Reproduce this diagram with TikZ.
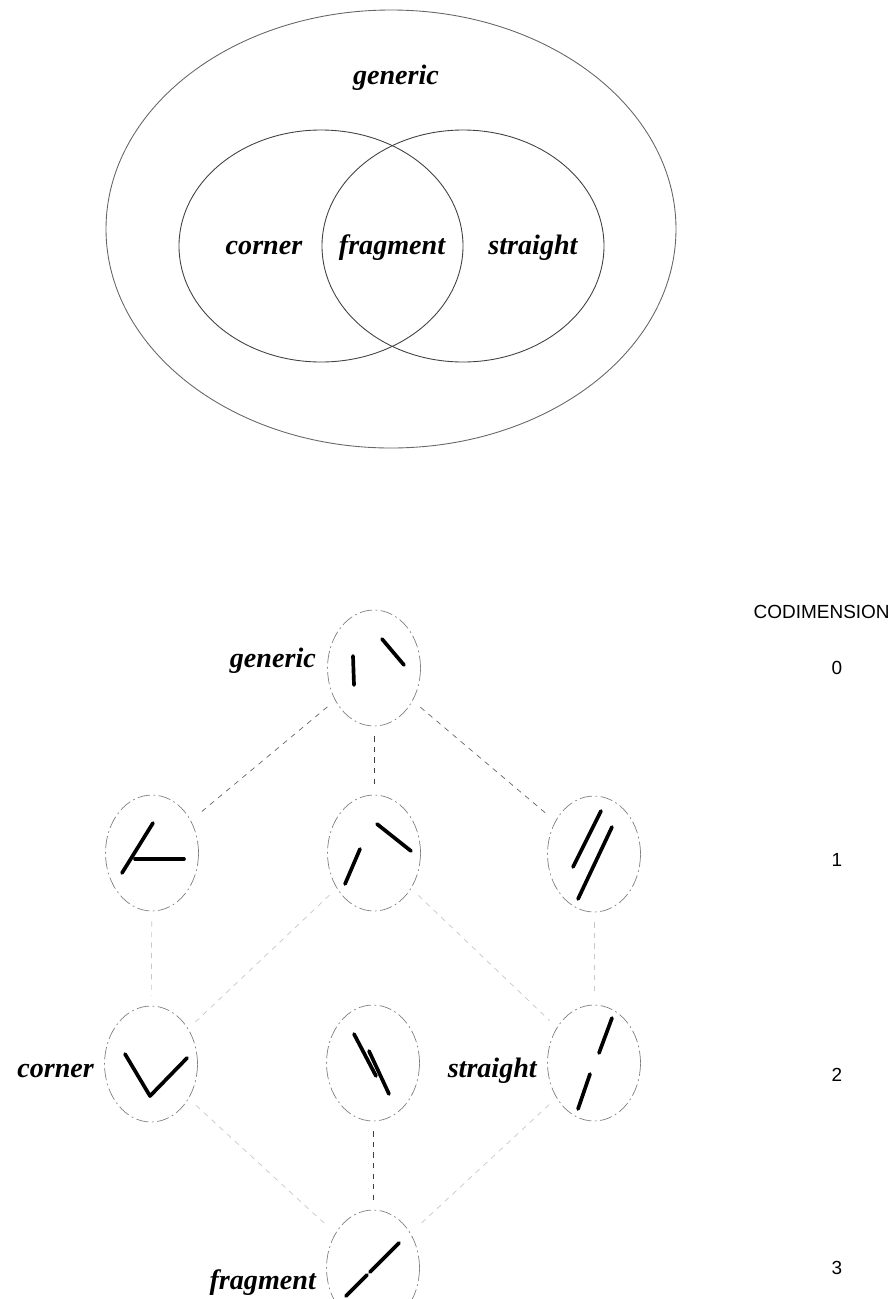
\documentclass[tikz,border=0pt]{standalone}
\usepackage{fontspec}
\setmainfont{Liberation Serif}
\setsansfont{Liberation Sans}
\usetikzlibrary{positioning,shapes.geometric}

\tikzset{
  setline/.style={draw=black!75, line width=0.5pt},
  state/.style={ellipse, draw=black!50, line width=0.4pt, dash pattern=on 7pt off 2pt on 1pt off 2pt,
    minimum width=1.86cm, minimum height=2.32cm, inner sep=0pt},
  seg/.style={line width=2.1pt, line cap=round},
  lbl/.style={font=\fontsize{16}{19}\selectfont\bfseries\itshape, inner sep=0pt},
  codim/.style={font=\sffamily\fontsize{10.8}{13}\selectfont, inner sep=0pt},
  link/.style={draw=black!60, line width=0.4pt, dashed, shorten >=0.2cm, shorten <=0.2cm},
  faint/.style={link, draw=black!22},
}

\begin{document}
\begin{tikzpicture}[x=0.02cm, y=-0.02cm]
  \useasboundingbox (0,0) rectangle (893,1299);

  % Venn diagram
  \draw[setline, draw=black!60] (391,229) ellipse [x radius=285, y radius=219];
  \draw[setline] (321,246) ellipse [x radius=142, y radius=116];
  \draw[setline] (463,246) ellipse [x radius=141, y radius=116];
  \node[lbl] (vgen) at (396,78) {generic};
  \node[lbl] (vcor) at (264,248) {corner};
  \node[lbl] (vfra) at (392,248) {fragment};
  \node[lbl] (vstr) at (533,248) {straight};

  % Lattice nodes
  \node[state] (g)  at (374,668)  {};
  \node[state] (l1) at (152,853)  {};
  \node[state] (m1) at (374,853)  {};
  \node[state] (r1) at (594,854)  {};
  \node[state] (c2) at (151,1064) {};
  \node[state] (m2) at (373,1063) {};
  \node[state] (s2) at (594,1063) {};
  \node[state] (f3) at (373,1268) {};

  % Labels
  \node[lbl, left=0.22cm of g, yshift=0.15cm] (lgen) {generic};
  \node[lbl, left=0.2cm of c2, yshift=-0.15cm] (lcor) {corner};
  \node[lbl, left=0.2cm of s2, yshift=-0.15cm] (lstr) {straight};
  \node[lbl, left=0.2cm of f3, yshift=-0.3cm] (lfra) {fragment};

  % Segments inside the nodes
  \begin{scope}[shift={(g)}]
    \draw[seg] (-21,-12) -- (-20,17);
    \draw[seg] (8,-29) -- (30,-3);
  \end{scope}
  \begin{scope}[shift={(l1)}]
    \draw[seg] (-30,20) -- (1,-30);
    \draw[seg] (-17,6) -- (32,6);
  \end{scope}
  \begin{scope}[shift={(m1)}]
    \draw[seg] (-29,31) -- (-14,-4);
    \draw[seg] (3,-29) -- (37,-2);
  \end{scope}
  \begin{scope}[shift={(r1)}]
    \draw[seg] (-21,13) -- (7,-43);
    \draw[seg] (-16,45) -- (18,-27);
  \end{scope}
  \begin{scope}[shift={(c2)}]
    \draw[seg, line join=round] (-26,-10) -- (-1,32) -- (36,-6);
  \end{scope}
  \begin{scope}[shift={(m2)}]
    \draw[seg] (-19,-29) -- (3,13);
    \draw[seg] (-4,-12) -- (16,31);
  \end{scope}
  \begin{scope}[shift={(s2)}]
    \draw[seg] (18,-45) -- (5,-10);
    \draw[seg] (-4,11) -- (-16,46);
  \end{scope}
  \begin{scope}[shift={(f3)}]
    \draw[seg] (-27,28) -- (-6,7);
    \draw[seg] (-3,4) -- (26,-25);
  \end{scope}

  % Connectors
  \draw[link] (g) -- (l1);
  \draw[link, draw=black!75] (g) -- (m1);
  \draw[link] (g) -- (r1);
  \draw[faint] (l1) -- (c2);
  \draw[faint] (m1) -- (c2);
  \draw[faint] (m1) -- (s2);
  \draw[faint] (r1) -- (s2);
  \draw[faint] (c2) -- (f3);
  \draw[link, draw=black!75] (m2) -- (f3);
  \draw[faint] (s2) -- (f3);

  % Codimension column
  \node[codim, anchor=east] (cod) at (890,612) {CODIMENSION};
  \node[codim] (k0) at (837,668)  {0};
  \node[codim] (k1) at (837,860)  {1};
  \node[codim] (k2) at (837,1075) {2};
  \node[codim] (k3) at (837,1268) {3};
\end{tikzpicture}
\end{document}
